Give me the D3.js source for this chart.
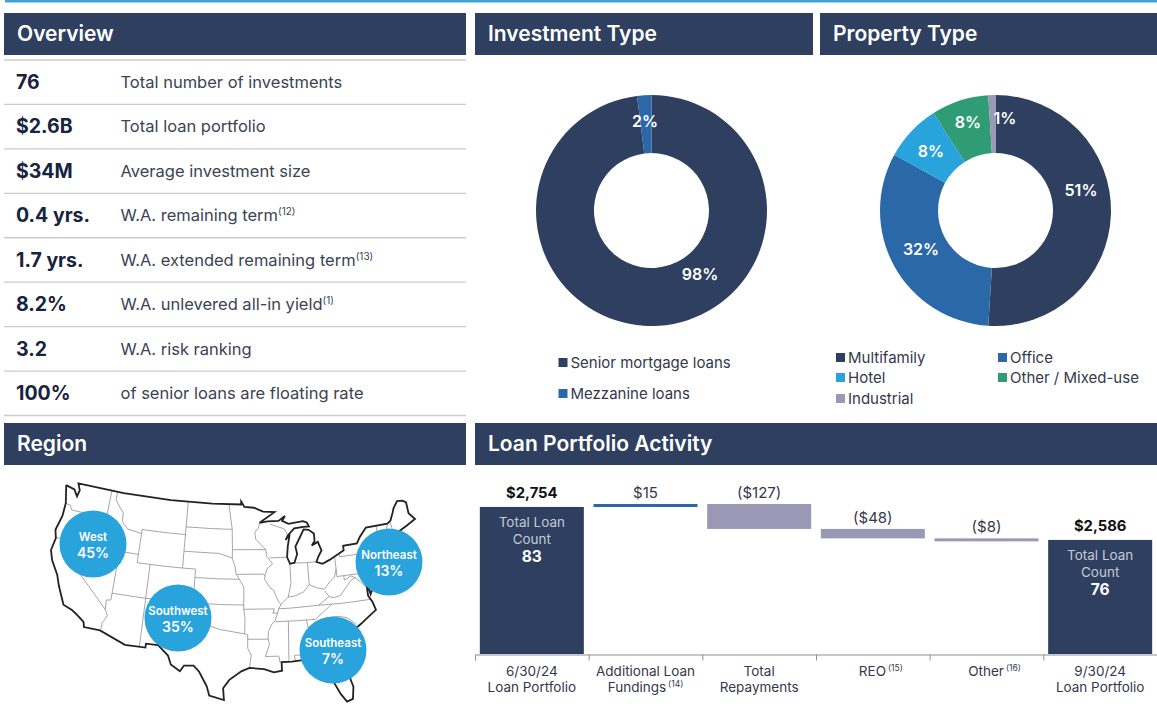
<!DOCTYPE html>
<html>
<head>
<meta charset="utf-8">
<script src="https://cdn.jsdelivr.net/npm/d3@7"></script>
<style>
html, body { margin:0; padding:0; background:#fff; overflow:hidden; }
svg { display:block; font-family:Inter, "Noto Sans", sans-serif; }
.hdr { fill:#fff; font-size:21px; font-weight:600; }
.big { fill:#17233f; font-size:19.5px; font-weight:700; }
.desc { fill:#3c4352; font-size:16.5px; font-weight:400; }
.lbl { fill:#33394a; font-size:13.5px; }
.leg { fill:#33394a; font-size:15px; }
.pct { fill:#fff; font-size:16px; font-weight:600; text-anchor:middle; }
</style>
</head>
<body>
<svg id="chart" width="1157" height="706"></svg>
<script>
// overview table
var overviewValues = ['76', '$2.6B', '$34M', '0.4 yrs.', '1.7 yrs.', '8.2%', '3.2', '100%'];
var overviewText = ['Total number of investments', 'Total loan portfolio', 'Average investment size', 'W.A. remaining term', 'W.A. extended remaining term', 'W.A. unlevered all-in yield', 'W.A. risk ranking', 'of senior loans are floating rate'];
var overviewNotes = ['', '', '', '(12)', '(13)', '(1)', '', ''];

// donuts
var investmentNames = ['Senior mortgage loans', 'Mezzanine loans'];
var investmentValues = [98, 2];
var propertyNames = ['Multifamily', 'Office', 'Hotel', 'Other / Mixed-use', 'Industrial'];
var propertyValues = [51, 32, 8, 8, 1];

// region bubbles
var regionNames = ['West', 'Southwest', 'Southeast', 'Northeast'];
var regionValues = [45, 35, 7, 13];

// loan activity
var loanTop = ['6/30/24', 'Additional Loan', 'Total', 'REO', 'Other', '9/30/24'];
var loanBottom = ['Loan Portfolio', 'Fundings', 'Repayments', '', '', 'Loan Portfolio'];
var loanNotes = ['', '(14)', '', '(15)', '(16)', ''];
var loanValues = [2754, 15, -127, -48, -8, 2586];
var loanLabels = ['$2,754', '$15', '($127)', '($48)', '($8)', '$2,586'];
var loanCounts = [83, null, null, null, null, 76];

// US outline, lon/lat
var usOutline = [[-124.7,48.4],[-123.2,48.15],[-122.5,47.4],[-122.3,48.2],[-122.8,49],[-115,49],[-107,49],[-100,49],[-95.15,49],[-95.15,49.38],[-94.6,48.7],[-93,48.6],[-91.5,48.1],[-89.6,48],[-92.1,46.75],[-90.8,46.9],[-89,46.9],[-87.9,47.47],[-88.4,46.9],[-87.4,46.5],[-85,46.7],[-84.4,46.5],[-84.1,46],[-85,46],[-86.5,45.9],[-87.6,45.1],[-88,44.55],[-87.3,45.2],[-87.7,43.8],[-87.9,42.5],[-87.5,41.7],[-86.8,41.8],[-86.3,42.8],[-86.5,43.7],[-85.6,44.9],[-85,45.7],[-84.2,45.6],[-83.4,45.1],[-83.4,44.2],[-83.9,43.7],[-82.9,44.05],[-82.45,43],[-83.1,42.2],[-83.4,41.7],[-82.5,41.4],[-81.3,41.8],[-79,42.7],[-79,43.25],[-76.8,43.3],[-76.2,44],[-75,45],[-71.5,45],[-70.9,45.3],[-70.3,46.2],[-70,46.7],[-69.2,47.45],[-68.3,47.35],[-67.8,47.05],[-67.8,45.7],[-67,44.85],[-68.5,44.3],[-70,43.8],[-70.7,43.05],[-70.8,42.6],[-71,42.3],[-70.6,41.95],[-70,42.05],[-70,41.65],[-71.2,41.5],[-72.9,41.25],[-73.65,40.98],[-72,41.05],[-74,40.55],[-74.1,39.7],[-74.9,38.95],[-75.5,39.5],[-75.05,38.45],[-75.9,37.15],[-76.3,38.9],[-76.3,37],[-75.8,36.2],[-75.5,35.25],[-76.6,34.65],[-77.9,33.9],[-79.2,33.2],[-81,32],[-81.4,30.7],[-81.2,29.6],[-80.5,28.3],[-80.05,26.8],[-80.3,25.4],[-81.1,25.15],[-81.8,26.1],[-82.7,27.8],[-82.8,28.9],[-83.9,30.05],[-85.3,29.7],[-86.5,30.4],[-88,30.3],[-89.4,30.3],[-89.4,29.3],[-90.5,29.15],[-91.8,29.55],[-93.8,29.7],[-94.9,29.3],[-96.5,28.3],[-97.3,27.3],[-97.15,25.95],[-99.1,26.4],[-99.5,27.5],[-100.6,29.1],[-101.4,29.77],[-102.7,29.7],[-103.2,29],[-104.5,29.7],[-105,30.7],[-106.5,31.77],[-108.2,31.78],[-108.2,31.33],[-111.07,31.33],[-114.8,32.5],[-117.1,32.53],[-117.3,33.1],[-118.4,33.75],[-119.2,34.15],[-120.6,34.55],[-121.9,36.6],[-122.5,37.75],[-123.8,39.3],[-124.35,40.4],[-124.1,41.9],[-124.5,42.85],[-124,44.7],[-124,46.25],[-124.7,48.4]];

// state lines, lon/lat
var stateLines = [
[[-124,46.25],[-123.2,46.15],[-122.8,45.65],[-121.2,45.65],[-119.3,45.93],[-116.92,46]],
[[-117.03,49],[-117.04,46.4],[-116.92,46],[-116.5,45.5],[-117.03,44.2],[-117.03,42]],
[[-124.2,42],[-120,42],[-117.03,42],[-114.04,42],[-111.05,42]],
[[-120,42],[-120,39],[-114.6,35],[-114.15,34.3],[-114.7,33.4],[-114.7,32.7]],
[[-114.04,42],[-114.04,36.2],[-114.7,36.1],[-114.6,35]],
[[-116.05,49],[-116.05,48],[-114.5,46.6],[-114.4,45.55],[-113.4,44.8],[-111.05,44.5]],
[[-111.05,45],[-107.5,45],[-104.05,45]],
[[-111.05,45],[-111.05,41],[-107.5,41],[-104.05,41]],
[[-104.05,49],[-104.05,41]],
[[-104.05,45.94],[-100,45.94],[-96.56,45.94]],
[[-104.05,43],[-98.5,43],[-96.45,42.5]],
[[-104.05,41],[-102.05,41],[-102.05,40],[-98.5,40],[-95.3,40]],
[[-109.05,41],[-109.05,37]],
[[-102.05,40],[-102.05,37]],
[[-114.04,37],[-109,37],[-103,37],[-98,37],[-94.62,37]],
[[-109.05,37],[-109.05,31.33]],
[[-103,37],[-103,32],[-106.6,32]],
[[-103,36.5],[-100,36.5],[-100,34.56],[-98,34.1],[-96,33.85],[-94.48,33.64]],
[[-94.62,37],[-94.62,39.1],[-95.3,40]],
[[-94.62,37],[-94.62,36.5],[-94.43,35.4],[-94.48,33.64],[-94.04,33.55],[-94.04,31.99],[-93.55,31.2],[-93.8,29.7]],
[[-94.04,33.02],[-91.17,33]],
[[-94.62,36.5],[-90.15,36.5],[-90.37,36],[-89.7,36]],
[[-91.2,43.5],[-91.1,42.7],[-90.2,41.8],[-91.1,41.2],[-91.4,40.4],[-91.5,40],[-90.7,39],[-90.2,38.7],[-89.5,37.3],[-89.15,37],[-89.5,36.5],[-89.7,36],[-90.1,35.1],[-90.6,34.7],[-91.1,33.9],[-91.17,33],[-91,32.4],[-91.6,31],[-89.75,31],[-89.6,30.2]],
[[-92.1,46.75],[-92.3,46.1],[-92.9,45.6],[-92.75,44.75],[-91.2,43.5]],
[[-96.45,43.5],[-91.2,43.5]],
[[-97.2,49],[-96.56,45.94],[-96.45,43.5],[-96.45,42.5],[-96,41.5],[-95.8,40.6],[-95.3,40]],
[[-95.77,40.58],[-91.7,40.6],[-91.4,40.4]],
[[-90.65,42.5],[-87.8,42.5]],
[[-90.4,46.55],[-88.1,45.9],[-87.6,45.1]],
[[-87.53,41.7],[-87.53,39.35],[-88.05,37.8]],
[[-89.15,37],[-88.05,37.8],[-87,37.9],[-85.7,38.3],[-84.8,39.1],[-83.7,38.65],[-82.6,38.4],[-81.7,39.2],[-80.9,39.7],[-80.52,40.64]],
[[-84.8,39.1],[-84.8,41.7]],
[[-86.8,41.76],[-84.8,41.7],[-83.4,41.73]],
[[-80.52,42],[-80.52,39.72],[-75.8,39.72]],
[[-79.76,42.27],[-79.76,42],[-75.35,42],[-74.7,41.35],[-73.9,41]],
[[-74.7,41.35],[-75.1,40.9],[-74.75,40.2],[-75.5,39.6]],
[[-73.35,45],[-73.25,42.75],[-73.5,42.05],[-73.5,41.3],[-73.65,41]],
[[-71.5,45],[-72.45,43.2],[-72.45,42.73]],
[[-73.25,42.75],[-70.85,42.87]],
[[-71.05,45.3],[-70.7,43.1]],
[[-73.5,42.05],[-71.8,42.02],[-71.38,42.02]],
[[-71.8,42.02],[-71.85,41.32]],
[[-82,37.5],[-81.3,37.3],[-80.3,37.5],[-79.3,38.4],[-78.4,39.15],[-77.8,39.3]],
[[-79.48,39.72],[-79.48,39.2],[-78.4,39.6],[-77.8,39.3],[-77.1,38.7],[-76.3,38]],
[[-83.68,36.6],[-82,37.5],[-82.6,38.2]],
[[-89.5,36.5],[-88,36.5],[-83.68,36.6],[-80,36.55],[-75.9,36.55]],
[[-90.1,35],[-87,35],[-84.3,35],[-81.7,36.6]],
[[-88.2,35],[-88.4,30.3]],
[[-85.6,35],[-85.1,32.3],[-85,31]],
[[-87.6,31],[-85,31],[-84.85,30.7],[-82.2,30.55],[-81.45,30.7]],
[[-87.6,31],[-87.5,30.3]],
[[-83.1,35],[-81.4,33],[-81,32.05]],
[[-83.1,35],[-81,35.1],[-79.7,34.8],[-78.55,33.87]],
[[-75.8,39.72],[-75.7,38.45],[-75.05,38.45]]
];

var navy = '#2e3f5f', blue = '#2b68a8', sky = '#29a3dc', green = '#2f9c76', grey = '#9a98b5';
var svg = d3.select('#chart');

// top rule
svg.append('rect').attr('x', 5).attr('y', 0).attr('width', 1152).attr('height', 2.5).attr('fill', '#3fa3d6');

// section headers
var headers = [
	{t:'Overview', x:4, y:13, w:462, h:42},
	{t:'Investment Type', x:475, y:13, w:338, h:42},
	{t:'Property Type', x:820, y:13, w:337, h:42},
	{t:'Region', x:4, y:423, w:462, h:42},
	{t:'Loan Portfolio Activity', x:475, y:423, w:682, h:42}
];
headers.forEach(function(d){
	svg.append('rect').attr('x', d.x).attr('y', d.y).attr('width', d.w).attr('height', d.h).attr('fill', navy);
	svg.append('text').attr('class', 'hdr').attr('x', d.x+13).attr('y', d.y+28).text(d.t);
});

// overview rows
var rowY = d3.scalePoint().domain(d3.range(9)).range([60, 415.5]);
d3.range(9).forEach(function(i){
	svg.append('line').attr('x1', 4).attr('x2', 466).attr('y1', rowY(i)).attr('y2', rowY(i))
		.attr('stroke', '#c9ccd4').attr('stroke-width', 1.3);
});
overviewValues.forEach(function(v, i){
	var base = rowY(i)+29;
	svg.append('text').attr('class', 'big').attr('x', 16).attr('y', base).text(v);
	var t = svg.append('text').attr('class', 'desc').attr('x', 120.5).attr('y', base-1).text(overviewText[i]);
	if(overviewNotes[i]) t.append('tspan').attr('dy', -6).attr('font-size', 10).text(overviewNotes[i]);
});

// donuts
function drawDonut(cx, cy, values, colors){
	var pie = d3.pie().sort(null)(values);
	var arc = d3.arc().innerRadius(57.5).outerRadius(115.5);
	var g = svg.append('g').attr('transform', 'translate(' + cx + ',' + cy + ')');
	g.selectAll('path').data(pie).enter().append('path').attr('d', arc).attr('fill', function(d, i){ return colors[i]; });
	return g;
}
// labels are placed by hand in the picture, offset from the donut centre
function donutLabels(g, values, spots){
	values.forEach(function(v, i){
		g.append('text').attr('class', 'pct').attr('x', spots[i][0]).attr('y', spots[i][1]).text(v+'%');
	});
}
var invColors = [navy, blue];
var propColors = [navy, blue, sky, green, grey];
var invG = drawDonut(651.5, 210.5, investmentValues, invColors);
donutLabels(invG, investmentValues, [[48.5, 69], [-6.5, -84]]);
var propG = drawDonut(995.5, 210.5, propertyValues, propColors);
donutLabels(propG, propertyValues, [[85.5, -14.5], [-74.5, 44], [-64.5, -53.5], [-27.5, -83], [9.5, -87]]);

// legends
function legendItem(x, y, color, name){
	svg.append('rect').attr('x', x).attr('y', y-5).attr('width', 9).attr('height', 9).attr('fill', color);
	svg.append('text').attr('class', 'leg').attr('x', x+12).attr('y', y+5).text(name);
}
var invLegY = d3.scalePoint().domain([0, 1]).range([363, 394]);
investmentNames.forEach(function(n, i){ legendItem(558.5, invLegY(i), invColors[i], n); });
var propLegX = [836, 998], propLegY = [358, 378, 399];
propertyNames.forEach(function(n, i){ legendItem(propLegX[i%2], propLegY[Math.floor(i/2)], propColors[i], n); });

// map
var proj = d3.geoConicEqualArea().parallels([22, 38]).rotate([94, 0]).fitExtent([[51, 482], [415, 703]], {type:'LineString', coordinates:usOutline});
var mapLine = d3.line().x(function(p){ return proj(p)[0]; }).y(function(p){ return proj(p)[1]; });
svg.selectAll('.state').data(stateLines).enter().append('path').attr('class', 'state')
	.attr('d', mapLine).attr('fill', 'none').attr('stroke', '#8f8f8f').attr('stroke-width', 0.8);
svg.append('path').attr('d', mapLine(usOutline)).attr('fill', 'none').attr('stroke', '#222').attr('stroke-width', 1.8);

// region bubbles sit at the spots they have on the page, not on map coordinates
var regionPos = [[93, 544], [178, 618], [333, 650], [389, 562]];
regionNames.forEach(function(n, i){
	var p = regionPos[i];
	svg.append('circle').attr('cx', p[0]).attr('cy', p[1]).attr('r', 33.5).attr('fill', sky);
	svg.append('text').attr('x', p[0]).attr('y', p[1]-3).attr('text-anchor', 'middle').attr('fill', '#fff')
		.attr('font-size', 11.5).attr('font-weight', 600).text(n);
	svg.append('text').attr('x', p[0]).attr('y', p[1]+14).attr('text-anchor', 'middle').attr('fill', '#fff')
		.attr('font-size', 14).attr('font-weight', 600).text(regionValues[i]+'%');
});

// waterfall, axis is cut off near 2005
var x = d3.scaleBand().domain(d3.range(6)).range([475, 1157]).paddingInner(0.085).paddingOuter(0.0425);
var y = d3.scaleLinear().domain([2005, 2769]).range([654, 504]);
var run = 0;
var bars = loanValues.map(function(v, i){
	var total = (i==0 || i==5);
	var a = total ? 2005 : run, b = total ? v : run+v;
	run = total ? v : run+v;
	return {i:i, hi:Math.max(a, b), lo:Math.min(a, b), total:total, up:v>0};
});
svg.selectAll('.bar').data(bars).enter().append('rect').attr('class', 'bar')
	.attr('x', function(d){ return x(d.i); })
	.attr('y', function(d){ return y(d.hi); })
	.attr('width', x.bandwidth())
	.attr('height', function(d){ return Math.max(y(d.lo)-y(d.hi), 3); })
	.attr('fill', function(d){ return d.total ? navy : d.up ? blue : grey; });
svg.selectAll('.val').data(bars).enter().append('text').attr('class', 'val')
	.attr('x', function(d){ return x(d.i)+x.bandwidth()/2; })
	.attr('y', function(d){ return y(d.hi)-(d.total ? 9 : 6); })
	.attr('text-anchor', 'middle')
	.attr('font-size', function(d){ return d.total ? 14.8 : 15; }).attr('fill', function(d){ return d.total ? '#111' : '#33394a'; })
	.attr('font-weight', function(d){ return d.total ? 700 : 400; })
	.text(function(d){ return loanLabels[d.i]; });

// total loan count inside the end bars
bars.filter(function(d){ return d.total; }).forEach(function(d){
	var cx = x(d.i)+x.bandwidth()/2, top = y(d.hi);
	['Total Loan', 'Count'].forEach(function(s, k){
		svg.append('text').attr('x', cx).attr('y', top+20+k*17).attr('text-anchor', 'middle')
			.attr('fill', '#c3cad6').attr('font-size', 13.5).text(s);
	});
	svg.append('text').attr('x', cx).attr('y', top+55).attr('text-anchor', 'middle')
		.attr('fill', '#fff').attr('font-size', 15.5).attr('font-weight', 700).text(loanCounts[d.i]);
});

// axis with ticks between the categories
var axisScale = d3.scaleLinear().domain([0, 6]).range([475, 1157]);
var axis = svg.append('g').attr('transform', 'translate(0,654.5)')
	.call(d3.axisBottom(axisScale).ticks(6).tickFormat('').tickSize(6).tickSizeOuter(6));
axis.selectAll('path,line').attr('stroke', '#8f8f8f');
loanTop.forEach(function(s, i){
	var cx = x(i)+x.bandwidth()/2;
	// one line labels carry a note, the reference centres the word and lets the note hang
	var shift = (loanNotes[i] && !loanBottom[i]) ? 8 : 0;
	var t = svg.append('text').attr('class', 'lbl').attr('x', cx+shift).attr('y', 676).attr('text-anchor', 'middle').text(s);
	var t2 = svg.append('text').attr('class', 'lbl').attr('x', cx).attr('y', 692).attr('text-anchor', 'middle').text(loanBottom[i]);
	if(loanNotes[i]){
		var tgt = loanBottom[i] ? t2 : t;
		tgt.append('tspan').attr('dy', -5).attr('dx', 2).attr('font-size', 8.5).text(loanNotes[i]);
	}
});
</script>
</body>
</html>
